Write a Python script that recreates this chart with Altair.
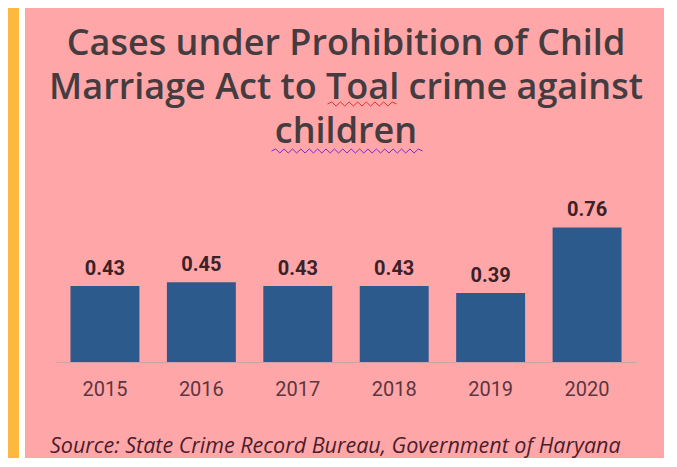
import altair as alt
import pandas as pd

years = ["2015", "2016", "2017", "2018", "2019", "2020"]
ratios = [0.43, 0.45, 0.43, 0.43, 0.39, 0.76]
title_lines = ["Cases under Prohibition of Child", "Marriage Act to Toal crime against", "children"]
source_text = "Source: State Crime Record Bureau, Government of Haryana"

df = pd.DataFrame({"year": years, "ratio": ratios})
one = alt.Data(values=[{"k": 1}])

W, H = 580, 177
PINK = "#FFA6A9"


def wave_path(periods, amp):
    step = 2.0 / (periods * 2)
    pts = ["M-1,0"]
    for i in range(1, periods * 2 + 1):
        yy = -amp if i % 2 else amp
        if i == periods * 2:
            yy = 0
        pts.append(f"L{-1 + i * step:.4f},{yy:.4f}")
    return " ".join(pts)


x_enc = alt.X("year:N", sort=years, title=None,
              scale=alt.Scale(paddingInner=0.285, paddingOuter=0.15),
              axis=alt.Axis(labelAngle=0, ticks=False, domainColor="#c9a3a6", domainWidth=1.2,
                            labelFont="Roboto", labelFontSize=20, labelColor="#5b3640",
                            labelPadding=17, labelBaseline="top", zindex=1))
y_enc = alt.Y("ratio:Q", scale=alt.Scale(domain=[0, 1]), axis=None)

pink = alt.Chart(one).mark_rect(color=PINK).encode(
    x=alt.value(-31), x2=alt.value(608), y=alt.value(-177), y2=alt.value(273))
yellow = alt.Chart(one).mark_rect(color="#FDB93F").encode(
    x=alt.value(-48), x2=alt.value(-37), y=alt.value(-177), y2=alt.value(273))

bars = alt.Chart(df).mark_bar(color="#2D5A8C").encode(x=x_enc, y=y_enc)
labels = alt.Chart(df).mark_text(font="Roboto", fontWeight="bold", fontSize=20, color="#3a2228",
                                 baseline="alphabetic", dy=-11).encode(
    x=alt.X("year:N", sort=years), y=y_enc, text=alt.Text("ratio:Q", format=".2f"))

title = alt.Chart(one).mark_text(text=title_lines, font="Open Sans", fontWeight=600, fontSize=36,
                                 lineHeight=44, color="#443c3e", baseline="alphabetic",
                                 align="center").encode(x=alt.value(W / 2), y=alt.value(-130))
squiggle_red = alt.Chart(one).mark_point(shape=wave_path(8, 0.06), filled=False, stroke="#e0302a",
                                         strokeWidth=1, opacity=1).encode(
    x=alt.value(306), y=alt.value(-81), size=alt.value(69 * 69))
squiggle_purple = alt.Chart(one).mark_point(shape=wave_path(18, 0.027), filled=False, stroke="#7a2ad0",
                                            strokeWidth=1, opacity=1).encode(
    x=alt.value(291), y=alt.value(-34), size=alt.value(151 * 151))
source = alt.Chart(one).mark_text(text=source_text, font="Open Sans", fontStyle="italic", fontSize=21.5,
                                  color="#4a1e2c", baseline="alphabetic", align="left").encode(
    x=alt.value(-6), y=alt.value(268))

chart = alt.layer(pink, yellow, bars, labels, title, squiggle_red, squiggle_purple, source).properties(
    width=W, height=H,
    autosize=alt.AutoSizeParams(type="none"),
    padding={"left": 48, "top": 177, "right": 32, "bottom": 96},
    background="white",
).configure_view(stroke=None)

chart.save("out.html", embed_options={"renderer": "svg", "actions": False})
